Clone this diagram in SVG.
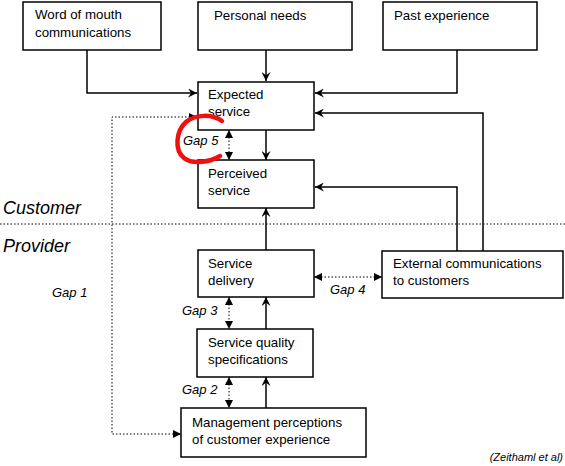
<svg xmlns="http://www.w3.org/2000/svg" width="565" height="466" viewBox="0 0 565 466">
<style>
  .box { fill: #fff; stroke: #000; stroke-width: 1.5; }
  .t { font-family: "Liberation Sans", Arial, sans-serif; font-size: 13.3px; fill: #000; }
  .gap { font-family: "Liberation Sans", Arial, sans-serif; font-size: 13px; font-style: italic; fill: #000; }
  .side { font-family: "Liberation Sans", Arial, sans-serif; font-size: 18px; font-style: italic; fill: #000; }
  .src { font-family: "Liberation Sans", Arial, sans-serif; font-size: 11px; font-style: italic; fill: #000; }
  .solid { fill: none; stroke: #000; stroke-width: 1.5; marker-end: url(#arr); }
  .dot { fill: none; stroke: #000; stroke-width: 1; stroke-dasharray: 1.5 2; }
  .gaparr { marker-start: url(#tri); marker-end: url(#tri); }
</style>
<defs>
  <marker id="arr" viewBox="0 0 10 10" refX="10" refY="5" markerWidth="9" markerHeight="9" markerUnits="userSpaceOnUse" orient="auto">
    <path d="M0,0 L10,5 L0,10 L3.5,5 z" fill="#000"/>
  </marker>
  <marker id="tri" viewBox="0 0 10 10" refX="10" refY="5" markerWidth="8" markerHeight="8" markerUnits="userSpaceOnUse" orient="auto-start-reverse">
    <path d="M0,0 L10,5 L0,10 z" fill="#000"/>
  </marker>
</defs>

<g id="boundary">
  <line class="dot" x1="0" y1="224" x2="565" y2="224"/>
  <text class="side" x="3" y="214">Customer</text>
  <text class="side" x="3" y="252">Provider</text>
</g>

<g id="connectors">
  <polyline class="solid" points="87,50 87,93 197,93"/>
  <line class="solid" x1="266" y1="50" x2="266" y2="81"/>
  <polyline class="solid" points="457,50 457,93 315,93"/>
  <polyline class="solid" points="483,251 483,113 315,113"/>
  <polyline class="solid" points="457,251 457,187 315,187"/>
  <line class="solid" x1="266" y1="130" x2="266" y2="160"/>
  <line class="solid" x1="266" y1="250" x2="266" y2="208"/>
  <line class="solid" x1="266" y1="329" x2="266" y2="297"/>
  <line class="solid" x1="266" y1="408" x2="266" y2="377"/>
  <line class="dot gaparr" x1="229" y1="130" x2="229" y2="160"/>
  <line class="dot gaparr" x1="229" y1="297" x2="229" y2="329"/>
  <line class="dot gaparr" x1="229" y1="377" x2="229" y2="408"/>
  <line class="dot gaparr" x1="314" y1="277" x2="382" y2="277"/>
  <polyline class="dot gaparr" points="197,117 112,117 112,434 181,434"/>
  <text class="gap" x="183" y="145">Gap 5</text>
  <text class="gap" x="52" y="297">Gap 1</text>
  <text class="gap" x="330" y="294">Gap 4</text>
  <text class="gap" x="182" y="315">Gap 3</text>
  <text class="gap" x="182" y="394">Gap 2</text>
</g>

<g id="word-of-mouth">
  <rect class="box" x="23" y="2" width="138" height="48"/>
  <text class="t" x="35" y="19">Word of mouth</text>
  <text class="t" x="35" y="37">communications</text>
</g>
<g id="personal-needs">
  <rect class="box" x="198" y="2" width="154" height="48"/>
  <text class="t" x="214" y="20">Personal needs</text>
</g>
<g id="past-experience">
  <rect class="box" x="383" y="2" width="154" height="48"/>
  <text class="t" x="394" y="20">Past experience</text>
</g>
<g id="expected-service">
  <rect class="box" x="198" y="82" width="116" height="48"/>
  <text class="t" x="208" y="99">Expected</text>
  <text class="t" x="208" y="116">service</text>
</g>
<g id="perceived-service">
  <rect class="box" x="198" y="160" width="116" height="48"/>
  <text class="t" x="208" y="178">Perceived</text>
  <text class="t" x="208" y="195">service</text>
</g>
<g id="service-delivery">
  <rect class="box" x="198" y="250" width="116" height="47"/>
  <text class="t" x="208" y="268">Service</text>
  <text class="t" x="208" y="285">delivery</text>
</g>
<g id="external-communications">
  <rect class="box" x="382" y="251" width="181" height="47"/>
  <text class="t" x="393" y="268">External communications</text>
  <text class="t" x="393" y="285">to customers</text>
</g>
<g id="service-quality-specifications">
  <rect class="box" x="197" y="329" width="116" height="48"/>
  <text class="t" x="208" y="347">Service quality</text>
  <text class="t" x="208" y="364">specifications</text>
</g>
<g id="management-perceptions">
  <rect class="box" x="181" y="408" width="185" height="49"/>
  <text class="t" x="192" y="427">Management perceptions</text>
  <text class="t" x="192" y="444">of customer experience</text>
</g>

<g id="annotation">
  <path d="M222,121 C212,114 196,114 186,122 C176,131 174,150 184,158 C193,165 210,162 220,156" fill="none" stroke="#f01010" stroke-width="4.5" stroke-linecap="round"/>
</g>

<text class="src" x="563" y="461" text-anchor="end">(Zeithaml et al)</text>
</svg>
